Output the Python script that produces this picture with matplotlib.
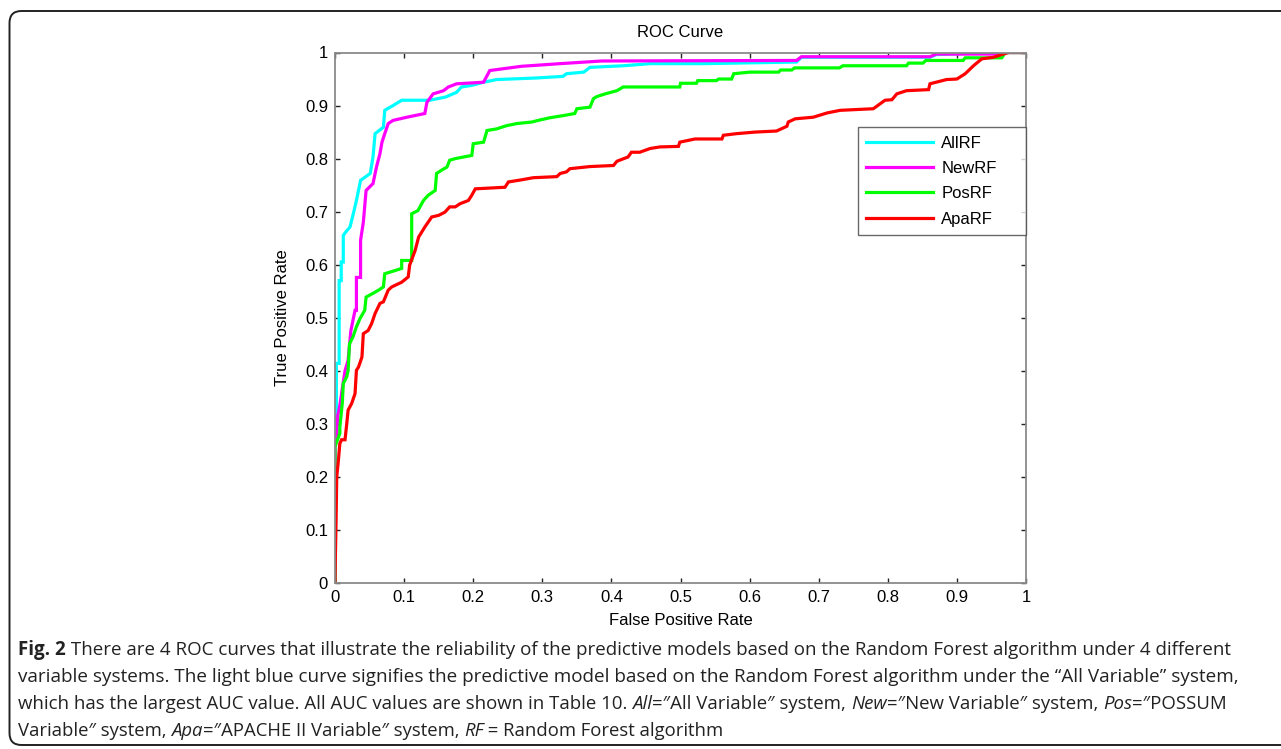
import matplotlib
matplotlib.use("Agg")
import matplotlib.pyplot as plt
from matplotlib import font_manager
from matplotlib.patches import FancyBboxPatch
from matplotlib.transforms import IdentityTransform

# ROC curve vertices (false positive rate, true positive rate)
all_fpr = [0, 0, 0.002, 0.002, 0.006, 0.006, 0.009, 0.009, 0.012, 0.012, 0.0145, 0.0217, 0.0265,
           0.031, 0.037, 0.051, 0.055, 0.058, 0.07, 0.072, 0.084, 0.0965, 0.137, 0.16, 0.176,
           0.183, 0.198, 0.215, 0.234, 0.292, 0.33, 0.335, 0.36, 0.369, 0.417, 0.456, 0.533,
           0.668, 0.675, 0.861, 0.87, 0.95, 1.0]
all_tpr = [0, 0.27, 0.27, 0.414, 0.414, 0.57, 0.57, 0.605, 0.605, 0.655, 0.66, 0.671, 0.696,
           0.721, 0.759, 0.772, 0.803, 0.847, 0.859, 0.891, 0.90, 0.910, 0.91, 0.916, 0.925,
           0.935, 0.938, 0.944, 0.949, 0.952, 0.955, 0.96, 0.963, 0.972, 0.975, 0.979, 0.979,
           0.982, 0.991, 0.991, 0.996, 1.0, 1.0]

new_fpr = [0, 0, 0.002, 0.004, 0.007, 0.0145, 0.019, 0.023, 0.029, 0.031, 0.031, 0.037, 0.037,
           0.041, 0.045, 0.055, 0.06, 0.065, 0.068, 0.072, 0.077, 0.084, 0.104, 0.13, 0.133,
           0.142, 0.157, 0.164, 0.176, 0.215, 0.224, 0.241, 0.27, 0.326, 0.386, 0.668, 0.675,
           0.861, 0.87, 0.96, 0.97, 1.0]
new_tpr = [0, 0.27, 0.27, 0.316, 0.335, 0.40, 0.42, 0.476, 0.514, 0.514, 0.576, 0.576, 0.646,
           0.680, 0.74, 0.753, 0.784, 0.809, 0.831, 0.847, 0.866, 0.872, 0.878, 0.885, 0.906,
           0.922, 0.928, 0.935, 0.941, 0.944, 0.966, 0.969, 0.974, 0.979, 0.984, 0.985, 0.992,
           0.992, 0.997, 0.997, 1.0, 1.0]

pos_fpr = [0, 0, 0.007, 0.007, 0.0105, 0.012, 0.017, 0.019, 0.021, 0.026, 0.031, 0.036, 0.043,
           0.045, 0.055, 0.063, 0.07, 0.072, 0.087, 0.0965, 0.0965, 0.111, 0.111, 0.12, 0.128,
           0.135, 0.145, 0.147, 0.154, 0.162, 0.166, 0.174, 0.198, 0.2, 0.215, 0.22, 0.234,
           0.248, 0.263, 0.285, 0.294, 0.311, 0.33, 0.347, 0.35, 0.369, 0.374, 0.379, 0.391,
           0.408, 0.417, 0.499, 0.5, 0.523, 0.525, 0.552, 0.555, 0.574, 0.577, 0.6, 0.642,
           0.645, 0.661, 0.665, 0.73, 0.735, 0.827, 0.83, 0.851, 0.855, 0.909, 0.912, 0.965,
           0.97, 1.0]
pos_tpr = [0, 0.257, 0.282, 0.294, 0.338, 0.376, 0.389, 0.401, 0.451, 0.464, 0.483, 0.498, 0.514,
           0.539, 0.546, 0.552, 0.558, 0.583, 0.589, 0.593, 0.608, 0.608, 0.696, 0.702, 0.721,
           0.731, 0.74, 0.772, 0.778, 0.784, 0.797, 0.80, 0.806, 0.828, 0.831, 0.853, 0.856,
           0.862, 0.866, 0.869, 0.872, 0.877, 0.881, 0.885, 0.894, 0.897, 0.913, 0.917, 0.922,
           0.928, 0.935, 0.935, 0.942, 0.942, 0.947, 0.947, 0.95, 0.95, 0.96, 0.963, 0.963,
           0.967, 0.967, 0.971, 0.971, 0.975, 0.975, 0.98, 0.98, 0.985, 0.985, 0.99, 0.99,
           1.0, 1.0]

apa_fpr = [0, 0, 0.0015, 0.0025, 0.005, 0.007, 0.0095, 0.0145, 0.017, 0.019, 0.024, 0.029, 0.031,
           0.034, 0.039, 0.041, 0.048, 0.053, 0.058, 0.065, 0.07, 0.077, 0.082, 0.0965, 0.106,
           0.108, 0.116, 0.121, 0.13, 0.14, 0.15, 0.159, 0.166, 0.174, 0.181, 0.193, 0.198,
           0.203, 0.246, 0.251, 0.27, 0.287, 0.321, 0.326, 0.335, 0.34, 0.369, 0.403, 0.408,
           0.424, 0.429, 0.441, 0.456, 0.47, 0.497, 0.499, 0.521, 0.56, 0.562, 0.581, 0.608,
           0.639, 0.654, 0.656, 0.666, 0.692, 0.712, 0.731, 0.779, 0.796, 0.806, 0.813, 0.827,
           0.859, 0.861, 0.885, 0.9, 0.912, 0.924, 0.936, 0.953, 0.967, 0.975, 1.0]
apa_tpr = [0, 0.011, 0.113, 0.2, 0.232, 0.263, 0.27, 0.27, 0.30, 0.326, 0.338, 0.357, 0.401,
           0.407, 0.426, 0.47, 0.476, 0.489, 0.508, 0.527, 0.53, 0.552, 0.558, 0.567, 0.577,
           0.599, 0.627, 0.652, 0.671, 0.69, 0.693, 0.699, 0.709, 0.709, 0.715, 0.721, 0.731,
           0.743, 0.746, 0.756, 0.76, 0.764, 0.766, 0.772, 0.775, 0.781, 0.785, 0.787, 0.795,
           0.803, 0.812, 0.812, 0.819, 0.822, 0.823, 0.831, 0.837, 0.837, 0.844, 0.847, 0.85,
           0.852, 0.861, 0.869, 0.875, 0.878, 0.886, 0.891, 0.894, 0.91, 0.911, 0.922, 0.928,
           0.93, 0.941, 0.949, 0.95, 0.96, 0.975, 0.988, 0.991, 0.997, 1.0, 1.0]

labels = ["AllRF", "NewRF", "PosRF", "ApaRF"]
colors = ["#00ffff", "#ff00ff", "#00ff00", "#ff0000"]
ticks = [0, 0.1, 0.2, 0.3, 0.4, 0.5, 0.6, 0.7, 0.8, 0.9, 1]

caption = [
    [("Fig. 2", "bold", "normal"),
     (" There are 4 ROC curves that illustrate the reliability of the predictive models based on "
      "the Random Forest algorithm under 4 different", "normal", "normal")],
    [("variable systems. The light blue curve signifies the predictive model based on the Random "
      "Forest algorithm under the \u201cAll Variable\u201d system,", "normal", "normal")],
    [("which has the largest AUC value. All AUC values are shown in Table 10. ", "normal", "normal"),
     ("All", "normal", "italic"), ("=\u2033All Variable\u2033 system, ", "normal", "normal"),
     ("New", "normal", "italic"), ("=\u2033New Variable\u2033 system, ", "normal", "normal"),
     ("Pos", "normal", "italic"), ("=\u2033POSSUM", "normal", "normal")],
    [("Variable\u2033 system, ", "normal", "normal"), ("Apa", "normal", "italic"),
     ("=\u2033APACHE II Variable\u2033 system, ", "normal", "normal"), ("RF", "normal", "italic"),
     (" = Random Forest algorithm", "normal", "normal")],
]
# where each caption line ends in the picture (pixels from the left)
caption_ends = [1232, 1237, 1226, 724]

W, H = 1281, 749
plt.rcParams["font.family"] = ["Liberation Sans", "DejaVu Sans"]

fig = plt.figure(figsize=(W / 100, H / 100), dpi=100)
fig.patch.set_facecolor("white")

# rounded frame around figure + caption
frame = FancyBboxPatch((9.5, 4), W + 40, 734, boxstyle="round,pad=0,rounding_size=12",
                       transform=IdentityTransform(), fill=False, edgecolor="#222222",
                       linewidth=1.4)
fig.patches.append(frame)

ax = fig.add_axes([335 / W, 1 - 583 / H, 691 / W, 530.5 / H])
series = [(all_fpr, all_tpr), (new_fpr, new_tpr), (pos_fpr, pos_tpr), (apa_fpr, apa_tpr)]
for (fx, ty), lab, col in zip(series, labels, colors):
    ax.plot(fx, ty, color=col, linewidth=2.3, label=lab, solid_joinstyle="miter")

ax.set_xlim(0, 1)
ax.set_ylim(0, 1)
ax.set_xticks(ticks)
ax.set_yticks(ticks)
ax.set_xticklabels(["%g" % t for t in ticks])
ax.set_yticklabels(["%g" % t for t in ticks])
ax.tick_params(direction="in", length=3.5, width=1, color="#222222", top=True, right=True,
               labelsize=12, pad=5)
for s in ax.spines.values():
    s.set_color("#8a8a8a")
    s.set_linewidth(1.3)

ax.set_title("ROC Curve", fontsize=12, pad=11)
ax.set_xlabel("False Positive Rate", fontsize=12, labelpad=6)
ax.set_ylabel("True Positive Rate", fontsize=12, labelpad=11)

leg = ax.legend(loc="upper left", bbox_to_anchor=(0.757, 0.657, 0.243, 0.202), mode="expand",
                borderaxespad=0, fancybox=False, fontsize=12, handlelength=4.0,
                handletextpad=0.5, labelspacing=0.62, borderpad=0.5, handleheight=0.7)
leg.get_frame().set_edgecolor("#444444")
leg.get_frame().set_linewidth(1.0)

# caption, drawn run by run so bold / italic pieces sit inline
names = {f.name for f in font_manager.fontManager.ttflist}
cap_font = next((n for n in ["Liberation Sans Narrow", "Open Sans", "Liberation Sans"] if n in names),
                "DejaVu Sans")
renderer = fig.canvas.get_renderer()


def run_width(s, size, weight, style):
    t = fig.text(0, 0, s, fontsize=size, fontweight=weight, fontstyle=style,
                 family=[cap_font, "DejaVu Sans"])
    w = t.get_window_extent(renderer).width
    t.remove()
    return w


def line_width(runs, size):
    total = 0
    for s, wt, st in runs:
        total += run_width(s.replace(" ", "\u00a0"), size, wt, st)
    return total


base = 13
cap_size = base * (caption_ends[0] - 18) / line_width(caption[0], base)
line_y = [650, 677, 704, 731]
for runs, yy, end in zip(caption, line_y, caption_ends):
    size = min(cap_size, cap_size * (end - 18) / line_width(runs, cap_size))
    x = 18
    for s, wt, st in runs:
        s2 = s.replace(" ", "\u00a0")
        fig.text(x / W, 1 - yy / H, s2, fontsize=size, fontweight=wt, fontstyle=st,
                 family=[cap_font, "DejaVu Sans"], va="center", ha="left", color="#222222")
        x += run_width(s2, size, wt, st)

fig.savefig("out.png", dpi=100)
